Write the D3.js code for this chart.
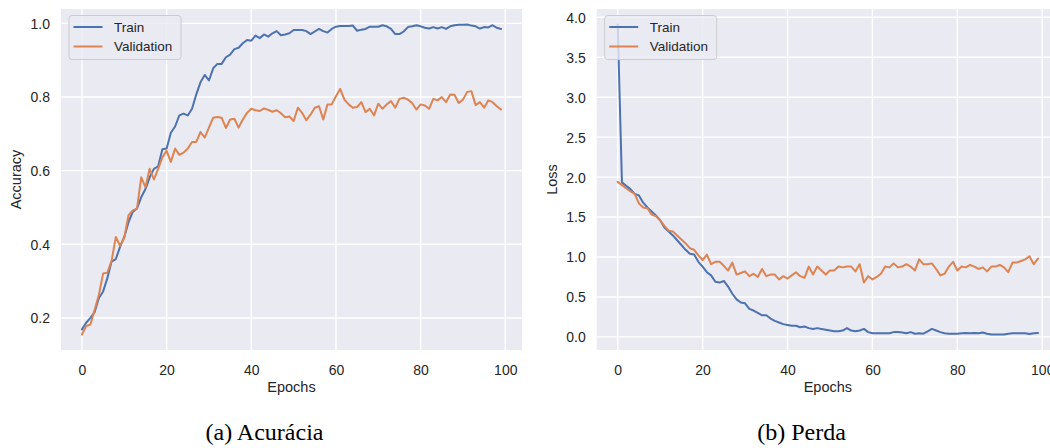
<!DOCTYPE html>
<html>
<head>
<meta charset="utf-8">
<script src="https://cdn.jsdelivr.net/npm/d3@7"></script>
<style>
  html, body { margin: 0; padding: 0; background: #ffffff; }
  svg { display: block; }
</style>
</head>
<body>
<div id="chart"></div>
<script>
// ---------------- data ----------------
const epochs = d3.range(100);

const accTrain = [
  0.169,0.187,0.200,0.216,0.254,0.272,0.308,0.353,0.360,0.393,
  0.420,0.460,0.488,0.497,0.528,0.550,0.582,0.605,0.612,0.658,
  0.660,0.703,0.720,0.750,0.755,0.750,0.768,0.807,0.840,0.860,
  0.845,0.878,0.890,0.890,0.908,0.915,0.930,0.934,0.946,0.955,
  0.953,0.967,0.960,0.970,0.964,0.973,0.979,0.968,0.970,0.973,
  0.982,0.982,0.982,0.979,0.971,0.978,0.985,0.979,0.975,0.985,
  0.991,0.993,0.993,0.993,0.994,0.980,0.983,0.985,0.991,0.991,
  0.991,0.995,0.992,0.985,0.971,0.971,0.978,0.990,0.992,0.995,
  0.992,0.988,0.986,0.990,0.986,0.990,0.985,0.992,0.995,0.996,
  0.996,0.997,0.994,0.992,0.986,0.990,0.989,0.995,0.988,0.985
];
const accVal = [
  0.155,0.178,0.182,0.222,0.263,0.321,0.323,0.355,0.420,0.396,
  0.418,0.479,0.492,0.497,0.582,0.555,0.605,0.576,0.605,0.636,
  0.654,0.624,0.660,0.643,0.649,0.660,0.678,0.678,0.705,0.690,
  0.717,0.744,0.746,0.744,0.716,0.739,0.741,0.717,0.739,0.757,
  0.768,0.764,0.762,0.769,0.765,0.760,0.764,0.756,0.745,0.747,
  0.735,0.771,0.757,0.737,0.752,0.771,0.775,0.739,0.780,0.780,
  0.802,0.822,0.793,0.780,0.771,0.773,0.786,0.759,0.768,0.750,
  0.782,0.768,0.780,0.789,0.771,0.795,0.798,0.793,0.784,0.766,
  0.780,0.777,0.768,0.795,0.791,0.800,0.786,0.807,0.806,0.784,
  0.793,0.814,0.816,0.778,0.786,0.771,0.791,0.786,0.775,0.766
];
const lossTrain = [
  3.91,1.934,1.89,1.85,1.79,1.77,1.68,1.62,1.57,1.52,
  1.46,1.37,1.32,1.27,1.21,1.15,1.09,1.04,1.03,0.94,
  0.88,0.81,0.77,0.69,0.68,0.70,0.63,0.54,0.47,0.43,
  0.42,0.35,0.33,0.30,0.27,0.27,0.23,0.20,0.18,0.16,
  0.15,0.14,0.14,0.12,0.13,0.11,0.10,0.11,0.10,0.09,
  0.08,0.07,0.07,0.08,0.11,0.08,0.07,0.08,0.10,0.06,
  0.045,0.045,0.045,0.045,0.045,0.06,0.06,0.055,0.045,0.06,
  0.04,0.045,0.04,0.07,0.10,0.08,0.06,0.045,0.04,0.04,
  0.04,0.045,0.05,0.045,0.05,0.045,0.055,0.04,0.03,0.03,
  0.03,0.03,0.04,0.045,0.047,0.045,0.045,0.035,0.045,0.05
];
const lossVal = [
  1.94,1.90,1.86,1.82,1.79,1.67,1.62,1.61,1.53,1.51,
  1.46,1.39,1.33,1.32,1.27,1.22,1.17,1.11,1.09,1.02,
  0.96,1.03,0.91,0.94,0.94,0.89,0.83,0.93,0.78,0.80,
  0.82,0.76,0.79,0.75,0.85,0.76,0.78,0.78,0.72,0.76,
  0.73,0.77,0.81,0.76,0.74,0.88,0.78,0.88,0.83,0.78,
  0.83,0.83,0.88,0.87,0.88,0.88,0.82,0.91,0.68,0.76,
  0.72,0.75,0.79,0.88,0.87,0.92,0.87,0.88,0.91,0.88,
  0.83,0.97,0.91,0.91,0.92,0.85,0.77,0.79,0.88,0.94,
  0.83,0.88,0.87,0.90,0.88,0.85,0.87,0.82,0.88,0.88,
  0.90,0.87,0.81,0.93,0.93,0.95,0.97,1.01,0.91,0.98
];

const accTicks = [0.2, 0.4, 0.6, 0.8, 1.0];
const lossTicks = [0.0, 0.5, 1.0, 1.5, 2.0, 2.5, 3.0, 3.5, 4.0];
const xTicks = [0, 20, 40, 60, 80, 100];
const seriesNames = ["Train", "Validation"];
const captions = ["(a) Acurácia", "(b) Perda"];

// ---------------- style ----------------
const W = 1050, H = 448;
const BG = "#eaeaf2", GRID = "#ffffff", TXT = "#262626";
const COLORS = ["#4c72b0", "#dd8452"];
const SANS = "Arial, 'Liberation Sans', Helvetica, sans-serif";
const SERIF = "'Times New Roman', 'Liberation Serif', Times, serif";

const svg = d3.select("#chart").append("svg")
  .attr("width", W).attr("height", H)
  .attr("viewBox", `0 0 ${W} ${H}`);

function panel(opts) {
  const { left, right, top, bottom, series, yTicks, yFmt, yLabel, yLabelX, caption, capX } = opts;

  const all = series.flat();
  const lo = d3.min(all), hi = d3.max(all);
  const pad = (hi - lo) * 0.05;
  const x = d3.scaleLinear().domain([-4.95, 103.95]).range([left, right]);
  const y = d3.scaleLinear().domain([lo - pad, hi + pad]).range([bottom, top]);

  const clipId = "clip" + Math.round(left);
  svg.append("clipPath").attr("id", clipId)
    .append("rect").attr("x", left).attr("y", top)
    .attr("width", right - left).attr("height", bottom - top);

  const g = svg.append("g");
  g.append("rect").attr("x", left).attr("y", top)
    .attr("width", right - left).attr("height", bottom - top)
    .attr("fill", BG);

  // grid
  const grid = g.append("g").attr("clip-path", `url(#${clipId})`);
  grid.selectAll("line.gx").data(xTicks).enter().append("line")
    .attr("x1", d => x(d)).attr("x2", d => x(d))
    .attr("y1", top).attr("y2", bottom)
    .attr("stroke", GRID).attr("stroke-width", 1.4);
  grid.selectAll("line.gy").data(yTicks).enter().append("line")
    .attr("x1", left).attr("x2", right)
    .attr("y1", d => y(d)).attr("y2", d => y(d))
    .attr("stroke", GRID).attr("stroke-width", 1.4);

  // axes (tick labels only, seaborn darkgrid style)
  const xAxis = d3.axisBottom(x).tickValues(xTicks).tickSize(0).tickPadding(0).tickFormat(d3.format("d"));
  const xg = g.append("g").attr("transform", `translate(0,${bottom})`).call(xAxis);
  xg.select(".domain").remove();
  xg.selectAll("text").attr("dy", null).attr("y", 24.5)
    .attr("font-family", SANS).attr("font-size", 14).attr("fill", TXT);

  const yAxis = d3.axisLeft(y).tickValues(yTicks).tickSize(0).tickPadding(0).tickFormat(yFmt);
  const yg = g.append("g").attr("transform", `translate(${left},0)`).call(yAxis);
  yg.select(".domain").remove();
  yg.selectAll("text").attr("x", -11).attr("dy", "0.35em")
    .attr("font-family", SANS).attr("font-size", 14).attr("fill", TXT);

  // lines
  const line = d3.line().x((d, i) => x(epochs[i])).y(d => y(d));
  const lg = g.append("g").attr("clip-path", `url(#${clipId})`);
  series.forEach((s, k) => {
    lg.append("path").datum(s).attr("d", line)
      .attr("fill", "none").attr("stroke", COLORS[k])
      .attr("stroke-width", 2).attr("stroke-linejoin", "round").attr("stroke-linecap", "round");
  });

  // legend
  const lx = left + 8, ly = top + 6.5, lw = 112, lh = 44;
  const leg = g.append("g");
  leg.append("rect").attr("x", lx).attr("y", ly).attr("width", lw).attr("height", lh)
    .attr("rx", 3).attr("fill", BG).attr("fill-opacity", 0.8)
    .attr("stroke", "#cccccc").attr("stroke-width", 1);
  seriesNames.forEach((n, k) => {
    const yy = ly + 11.5 + k * 19.5;
    leg.append("line").attr("x1", lx + 4.5).attr("x2", lx + 33.5)
      .attr("y1", yy).attr("y2", yy)
      .attr("stroke", COLORS[k]).attr("stroke-width", 2);
    leg.append("text").attr("x", lx + 45).attr("y", yy).attr("dy", "0.35em")
      .attr("font-family", SANS).attr("font-size", 13.5).attr("fill", TXT).text(n);
  });

  // axis labels
  g.append("text").attr("x", (left + right) / 2).attr("y", bottom + 42)
    .attr("text-anchor", "middle").attr("font-family", SANS).attr("font-size", 14.5)
    .attr("fill", TXT).text("Epochs");
  g.append("text").attr("transform", `translate(${yLabelX},${(top + bottom) / 2}) rotate(-90)`)
    .attr("text-anchor", "middle").attr("font-family", SANS).attr("font-size", 14.5)
    .attr("fill", TXT).text(yLabel);

  // caption
  svg.append("text").attr("x", capX).attr("y", 440)
    .attr("text-anchor", "middle").attr("font-family", SERIF).attr("font-size", 24)
    .attr("fill", "#000").text(caption);
}

panel({
  left: 61, right: 522, top: 9, bottom: 350,
  series: [accTrain, accVal], yTicks: accTicks, yFmt: d3.format(".1f"),
  yLabel: "Accuracy", yLabelX: 21, caption: captions[0], capX: 264.5
});
panel({
  left: 596.7, right: 1059, top: 9, bottom: 350,
  series: [lossTrain, lossVal], yTicks: lossTicks, yFmt: d3.format(".1f"),
  yLabel: "Loss", yLabelX: 557, caption: captions[1], capX: 801.5
});
</script>
</body>
</html>
